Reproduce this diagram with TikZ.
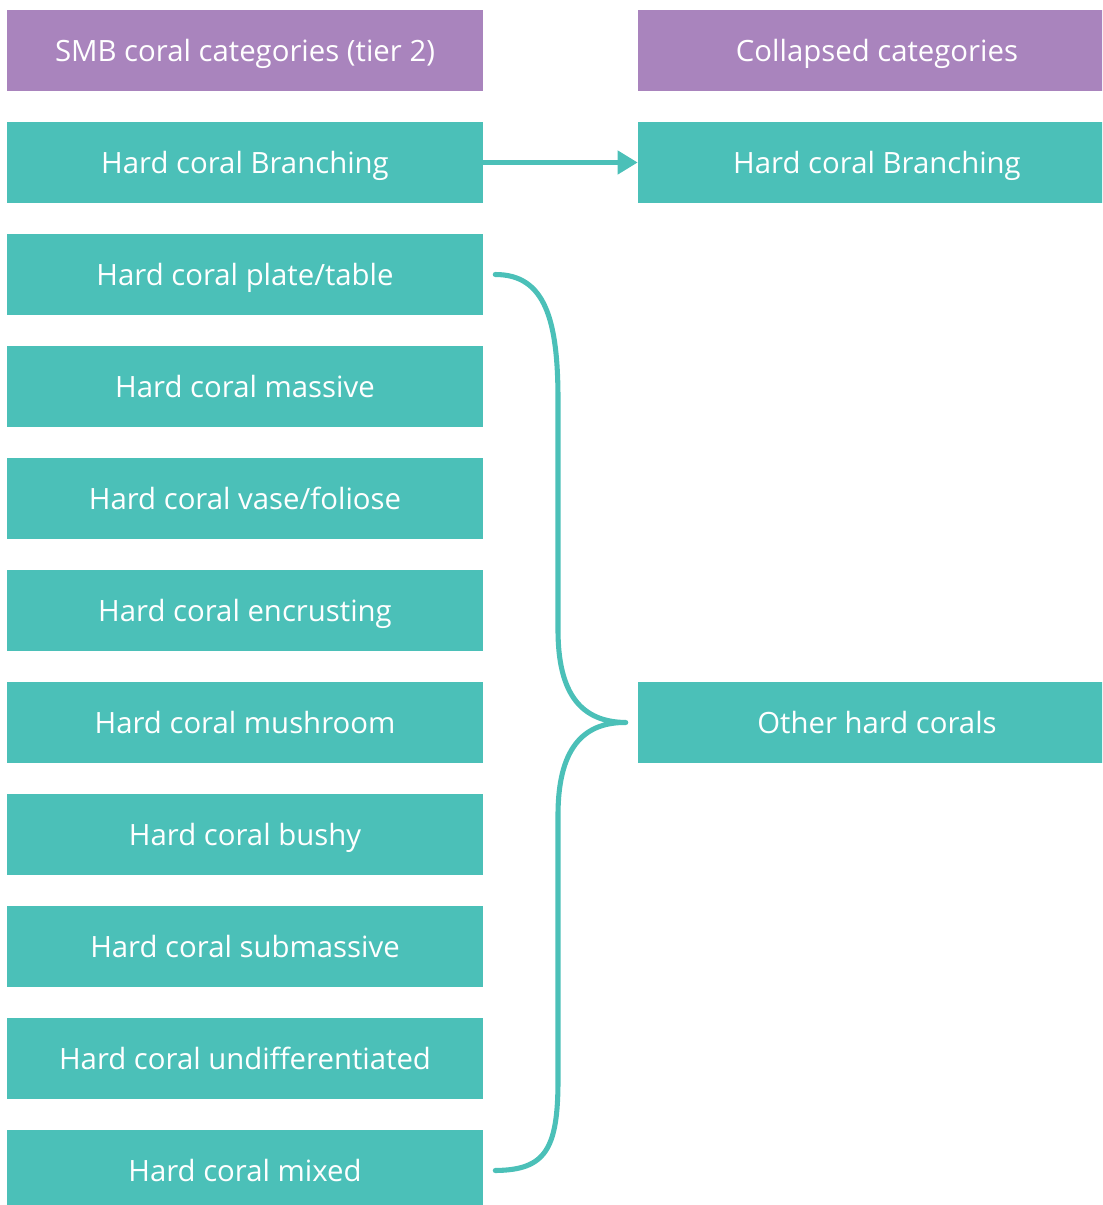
\documentclass[tikz,border=0pt]{standalone}
\usepackage{fontspec}
\setmainfont{Open Sans}
\usetikzlibrary{arrows.meta}
\definecolor{headpurple}{HTML}{A984BD}
\definecolor{coralteal}{HTML}{4BC0B8}
\tikzset{
  box/.style={fill=#1, text=white, inner sep=0pt, text height=15.8pt, text depth=0pt,
    font=\fontsize{22}{26}\selectfont},
  leftbox/.style={box=#1, minimum width=357pt, minimum height=60.75pt},
  rightbox/.style={box=#1, minimum width=358.5pt, minimum height=60.75pt},
  link/.style={draw=coralteal, line width=3.8pt},
}
\begin{document}
\begin{tikzpicture}[x=0.75pt, y=-0.75pt]
\useasboundingbox (0,0) rectangle (1102,1205);
\clip (0,0) rectangle (1102,1205);
% left column: tier-2 categories
\node[leftbox=headpurple] (hdrL) at (245,50.5) {SMB coral categories (tier 2)};
\node[leftbox=coralteal] (l1) at (245,162.5) {Hard coral Branching};
\node[leftbox=coralteal] (l2) at (245,274.5) {Hard coral plate/table};
\node[leftbox=coralteal] (l3) at (245,386.5) {Hard coral massive};
\node[leftbox=coralteal] (l4) at (245,498.5) {Hard coral vase/foliose};
\node[leftbox=coralteal] (l5) at (245,610.5) {Hard coral encrusting};
\node[leftbox=coralteal] (l6) at (245,722.5) {Hard coral mushroom};
\node[leftbox=coralteal] (l7) at (245,834.5) {Hard coral bushy};
\node[leftbox=coralteal] (l8) at (245,946.5) {Hard coral submassive};
\node[leftbox=coralteal] (l9) at (245,1058.5) {Hard coral undifferentiated};
\node[leftbox=coralteal] (l10) at (245,1170.5) {Hard coral mixed};
% right column: collapsed categories
\node[rightbox=headpurple] (hdrR) at (877,50.5) {Collapsed categories};
\node[rightbox=coralteal] (r1) at (877,162.5) {Hard coral Branching};
\node[rightbox=coralteal] (r2) at (877,722.5) {Other hard corals};
% one-to-one mapping
\draw[link, -{Triangle[length=15pt, width=17pt]}] (l1.east) -- (r1.west);
% brace grouping the remaining categories
\coordinate (btop) at ([xshift=9pt]l2.east);
\coordinate (bbot) at ([xshift=9pt]l10.east);
\coordinate (btip) at ([xshift=-9pt]r2.west);
\draw[link, line cap=round, line join=round]
  (btop) .. controls +(50,0) and (558,320) .. (558,400)
  -- (558,630) .. controls (558,695) and (582,722) .. (btip)
  .. controls (582,722) and (558,750) .. (558,815)
  -- (558,1080) .. controls (558,1150) and (545,1170) .. (bbot);
\end{tikzpicture}
\end{document}
